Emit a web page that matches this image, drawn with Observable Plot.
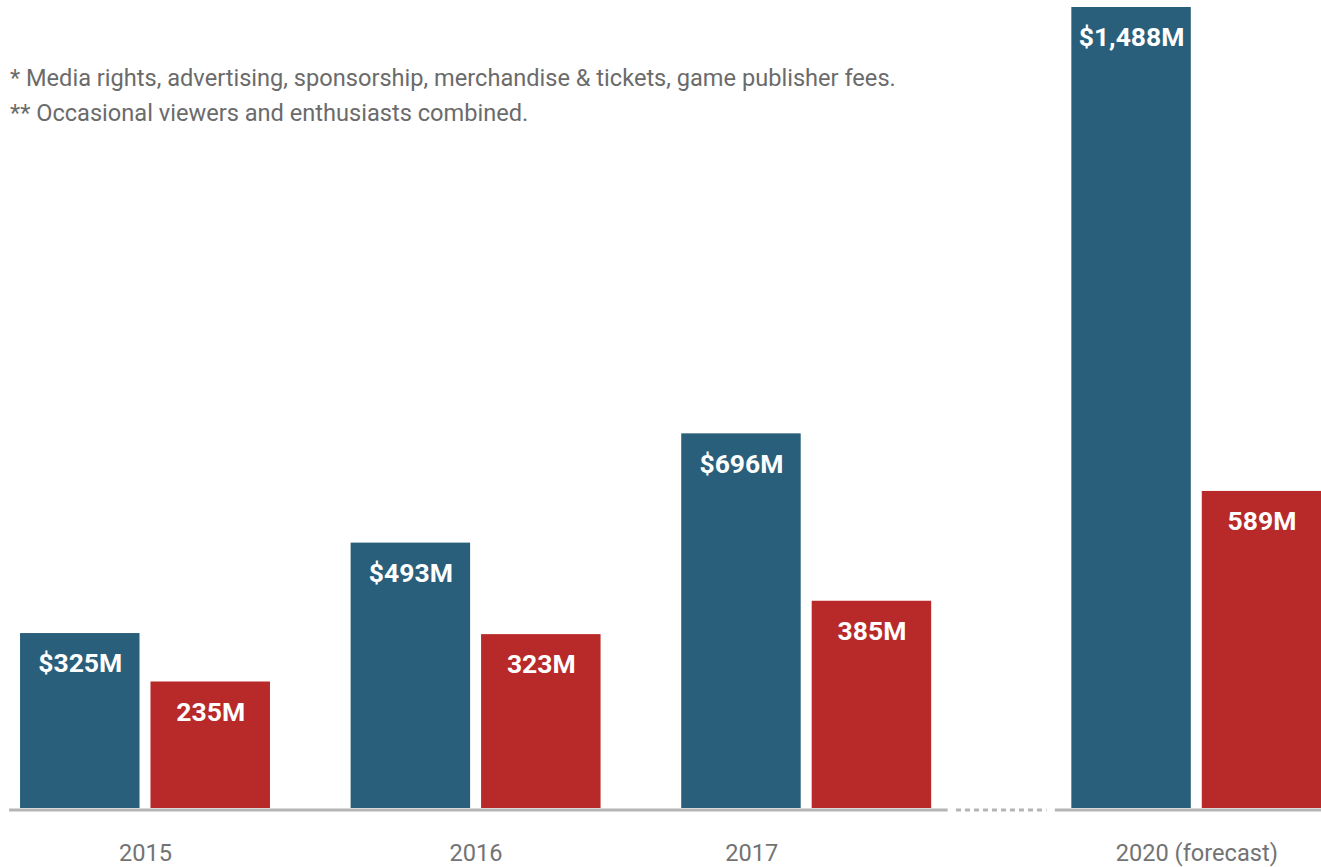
<!DOCTYPE html>
<html>
<head>
<meta charset="utf-8">
<script src="https://cdn.jsdelivr.net/npm/d3@7"></script>
<script src="https://cdn.jsdelivr.net/npm/@observablehq/plot@0.6"></script>
<style>
  html, body { margin: 0; padding: 0; background: #fff; }
  #wrap { position: relative; width: 1321px; height: 867px; font-family: Roboto, sans-serif; }
  #notes { position: absolute; left: 10px; top: 61px; font-size: 23.6px; line-height: 35px; color: #6b6b6b; z-index: 2; }
  #chart { position: absolute; left: 0; top: 0; }
</style>
</head>
<body>
<div id="wrap">
  <div id="chart"></div>
  <div id="notes">
    <div>* Media rights, advertising, sponsorship, merchandise &amp; tickets, game publisher fees.</div>
    <div>** Occasional viewers and enthusiasts combined.</div>
  </div>
</div>
<script>
// ---- data ----
const years = ["2015", "2016", "2017", "2020 (forecast)"];
const revenue = [325, 493, 696, 1488];          // blue series, $M
const audience = [235, 323, 385, 589];          // red series, M
const revenueLabels = ["$325M", "$493M", "$696M", "$1,488M"];
const audienceLabels = ["235M", "323M", "385M", "589M"];

// ---- layout (group slots on a linear x scale) ----
const forecastGap = 0.18;     // extra space before the forecast group
const half = 0.378;           // half width of a group (two bars)
const inner = 0.0166;         // half of the gap between the pair
const slot = i => i + (i === years.length - 1 ? forecastGap : 0);
const labelShift = [0, 0, -0.166, 0]; // the 2017 label sits left of its group

const blue = "#2a5f7b";
const red = "#b8292a";

const rows = [];
years.forEach((y, i) => {
  const c = slot(i);
  rows.push({year: y, series: "revenue", value: revenue[i], label: revenueLabels[i], x1: c - half, x2: c - inner});
  rows.push({year: y, series: "audience", value: audience[i], label: audienceLabels[i], x1: c + inner, x2: c + half});
});
const ticks = years.map((y, i) => ({year: y, c: slot(i) + labelShift[i]}));

const c2 = slot(2), c3 = slot(3);
const baseSolid = [{a: -0.411, b: c2 + half + 0.05}, {a: c3 - half - 0.05, b: 3.56}];
const baseDotted = [{a: c2 + half + 0.075, b: c3 - half - 0.075}];

const chart = Plot.plot({
  width: 1321,
  height: 867,
  marginTop: 7,
  marginBottom: 59,
  marginLeft: 0,
  marginRight: 0,
  style: {fontFamily: "Roboto, sans-serif", background: "#fff"},
  x: {domain: [-0.4386, 3.5572], axis: null},
  y: {domain: [0, 1488], axis: null},
  marks: [
    Plot.rectY(rows, {
      x1: "x1", x2: "x2", y1: 0, y2: "value",
      fill: d => d.series === "revenue" ? blue : red
    }),
    Plot.ruleY(baseSolid, {y: 0, x1: "a", x2: "b", stroke: "#b5b5b5", strokeWidth: 3, dy: 1.5}),
    Plot.ruleY(baseDotted, {y: 0, x1: "a", x2: "b", stroke: "#b5b5b5", strokeWidth: 3, dy: 1.5, strokeDasharray: "5,4"}),
    Plot.text(rows, {
      x: d => (d.x1 + d.x2) / 2, y: "value", text: "label",
      fill: "#fff", fontWeight: "bold", fontSize: 26.5, lineAnchor: "top", dy: 20
    }),
    Plot.text(ticks, {
      x: "c", y: 0, text: "year", dy: 45,
      fill: "#737373", fontSize: 23.6, lineAnchor: "middle"
    })
  ]
});
document.getElementById("chart").appendChild(chart);
</script>
</body>
</html>
